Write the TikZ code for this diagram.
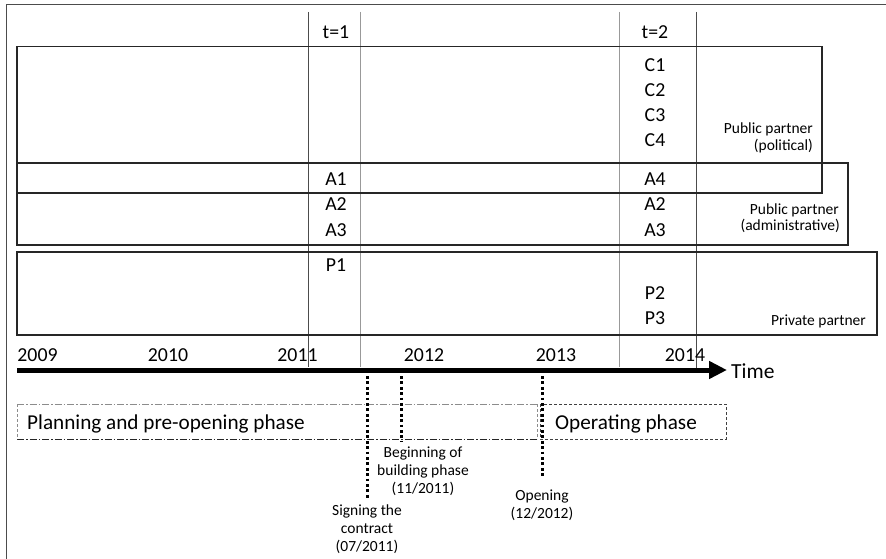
\documentclass[tikz,border=0pt]{standalone}
\usepackage{fontspec}
\setmainfont{Carlito}
\usetikzlibrary{arrows.meta}
\begin{document}
\begin{tikzpicture}[x=1pt,y=-1pt,
  frameline/.style={draw=black!70, line width=1.5pt},
  boxline/.style={draw=black!85, line width=1.2pt},
  colline/.style={draw=black!70, line width=1pt},
  collight/.style={draw=black!40, line width=1pt},
  lbl/.style={font=\fontsize{19.8}{22}\selectfont, inner sep=0pt, anchor=base},
  phase/.style={font=\fontsize{21.2}{24}\selectfont, inner sep=0pt, anchor=base west},
  small/.style={font=\fontsize{15.5}{18}\selectfont, inner sep=0pt, anchor=base},
  smallr/.style={font=\fontsize{15.5}{18}\selectfont, inner sep=0pt, anchor=base east},
  dotline/.style={draw=black, line width=3pt, dash pattern=on 2.7pt off 2.7pt},
  timeline/.style={draw=black, line width=5pt, -{Triangle[length=18pt,width=17pt]}}
]
\useasboundingbox (0,0) rectangle (886,559);
% outer frame (left and top)
\draw[frameline] (6.5,559) -- (6.5,4.5) -- (886,4.5);
% column lines
\draw[colline] (308,12) -- (308,367);
\draw[collight] (360,12) -- (360,367);
\draw[collight] (619,12) -- (619,367);
\draw[colline] (696,12) -- (696,369);
% partner boxes
\draw[boxline] (17,46.5) rectangle (822,193);
\draw[boxline] (17,163) rectangle (848,245);
\draw[boxline] (17,252) rectangle (877,335);
% column headers and actors
\node[lbl] (t1) at (336,38.3) {t=1};
\node[lbl] (t2) at (655,38.3) {t=2};
\node[lbl] (c1) at (655,71.7) {C1};
\node[lbl] (c2) at (655,96.7) {C2};
\node[lbl] (c3) at (655,121.7) {C3};
\node[lbl] (c4) at (655,146.7) {C4};
\node[lbl] (a1) at (336,185) {A1};
\node[lbl] (a2l) at (336,210.5) {A2};
\node[lbl] (a3l) at (336,236) {A3};
\node[lbl] (p1) at (336,271.7) {P1};
\node[lbl] (a4) at (655,185) {A4};
\node[lbl] (a2r) at (655,210.5) {A2};
\node[lbl] (a3r) at (655,236) {A3};
\node[lbl] (p2) at (655,299) {P2};
\node[lbl] (p3) at (655,324) {P3};
% partner labels
\node[smallr] (pol1) at (813,134) {Public partner};
\node[smallr] (pol2) at (813,150.5) {(political)};
\node[smallr] (adm1) at (839,214.3) {Public partner};
\node[smallr] (adm2) at (840,230.7) {(administrative)};
\node[smallr] (priv) at (866,325) {Private partner};
% years
\node[lbl] (y2009) at (37.5,361.7) {2009};
\node[lbl] (y2010) at (168,361.7) {2010};
\node[lbl] (y2011) at (297.5,361.7) {2011};
\node[lbl] (y2012) at (424,361.7) {2012};
\node[lbl] (y2013) at (556,361.7) {2013};
\node[lbl] (y2014) at (685,361.7) {2014};
% time arrow
\coordinate (tstart) at (17,370);
\coordinate (tend) at (727,370);
\draw[timeline] (tstart) -- (tend);
\node[font=\fontsize{21.5}{24}\selectfont, inner sep=0pt, anchor=base west] (time) at (731,378.3) {Time};
% phase boxes
\draw[black!45, line width=0.8pt, dash pattern=on 7pt off 2pt on 1.5pt off 2pt] (17,404) -- (537,404);
\draw[black!85, line width=0.8pt, dash pattern=on 7pt off 2pt on 1.5pt off 2pt] (17,439) -- (537,439);
\draw[black!45, line width=0.8pt, dash pattern=on 3pt off 2pt] (17,404) -- (17,439);
\draw[black!45, line width=0.8pt, dash pattern=on 3pt off 2pt] (537,404) -- (537,439);
\draw[black!75, line width=0.8pt, dash pattern=on 3pt off 2pt] (540,404) rectangle (726,439);
\node[phase] (plan) at (27,429.3) {Planning and pre-opening phase};
\node[phase] (oper) at (555,429.3) {Operating phase};
% event markers
\coordinate (s1a) at (367,376);
\coordinate (s1b) at (367,498);
\coordinate (s2a) at (401,376);
\coordinate (s2b) at (401,442);
\coordinate (s3a) at (542,376);
\coordinate (s3b) at (542,478);
\draw[dotline] (s1a) -- (s1b);
\draw[dotline] (s2a) -- (s2b);
\draw[dotline] (s3a) -- (s3b);
\node[small] (sig1) at (367,515) {Signing the};
\node[small] (sig2) at (367,533.3) {contract};
\node[small] (sig3) at (367,551.7) {(07/2011)};
\node[small] (beg1) at (423,457) {Beginning of};
\node[small] (beg2) at (423,475) {building phase};
\node[small] (beg3) at (423,493) {(11/2011)};
\node[small] (ope1) at (542,500) {Opening};
\node[small] (ope2) at (542,518.3) {(12/2012)};
\end{tikzpicture}
\end{document}
